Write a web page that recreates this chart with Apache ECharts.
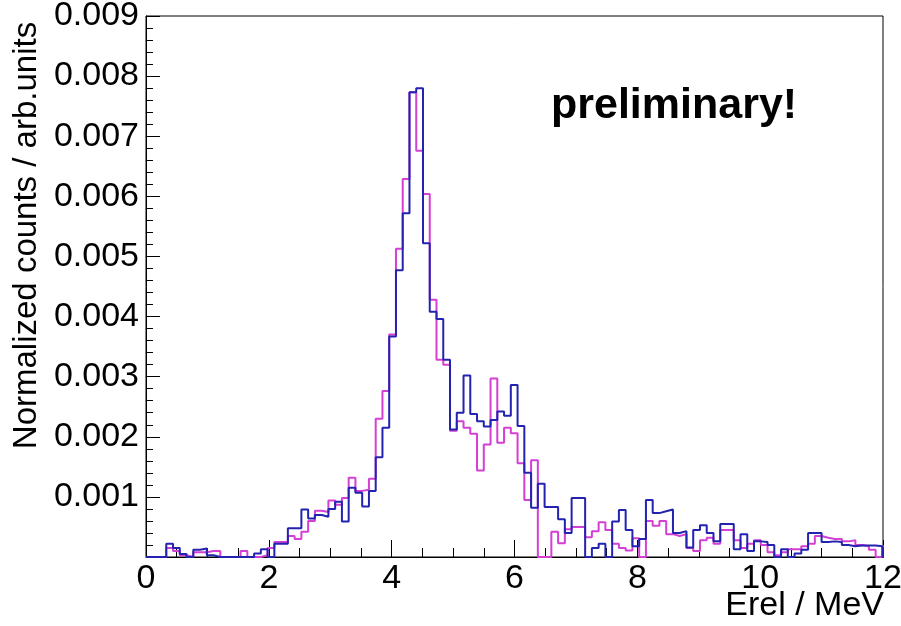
<!DOCTYPE html>
<html>
<head>
<meta charset="utf-8">
<script src="https://cdn.jsdelivr.net/npm/echarts@6/dist/echarts.min.js"></script>
<style>
html,body{margin:0;padding:0;background:#fff;}
#chart{width:901px;height:626px;}
</style>
</head>
<body>
<div id="chart"></div>
<script>
// Histogram binning (MeV)
const BIN_START = 0;
const BIN_WIDTH = 0.11;

// Blue histogram, normalized counts per bin
const blueCounts = [
  0, 0, 0, 0.00022, 0.00015, 0.00005, 0, 0.00012, 0.00014, 0.00003,
  0, 0, 0, 0, 0, 0, 0.00006, 0.00013, 0, 0.00022,
  0.00022, 0.00048, 0.00048, 0.00079, 0.00064, 0.0007, 0.00067, 0.0008, 0.00092, 0.00059,
  0.00115, 0.00107, 0.00084, 0.0011, 0.00166, 0.00215, 0.00367, 0.00477, 0.00572, 0.00773,
  0.0078, 0.00522, 0.00408, 0.00396, 0.00328, 0.00212, 0.0024, 0.00302, 0.00238, 0.00226,
  0.00217, 0.00228, 0.00242, 0.00235, 0.00286, 0.00218, 0.0014, 0.00082, 0.00122, 0.00083,
  0.00083, 0.00063, 0.0004, 0.00098, 0.00098, 0, 0.00015, 0.00022, 0, 0.00059,
  0.00078, 0.00045, 0.00018, 0.0003, 0.00095, 0.00073, 0.00076, 0.00079, 0.0004, 0.00043,
  0.00016, 0.00045, 0.00053, 0.0004, 0.00026, 0.00055, 0.00055, 0.00013, 0.00038, 0.0001,
  0.00026, 0.00025, 0.0002, 0, 0.00013, 0, 0.00006, 0.00012, 0.0004, 0.0004,
  0.00025, 0.00026, 0.00025, 0.0002, 0.00018, 0.00019, 0.00019, 0.00019, 0.00018, 0
];

// Magenta histogram, normalized counts per bin
const magentaCounts = [
  0, 0, 0, 0.00015, 0.0001, 0.00003, 0, 0.00008, 0.00008, 0.0001,
  0.0001, 0, 0, 0, 0.0001, 0, 0, 0.00003, 0.00015, 0.00025,
  0.00025, 0.00035, 0.0003, 0.00042, 0.0006, 0.00077, 0.00075, 0.00094, 0.00087, 0.00098,
  0.00132, 0.0011, 0.00112, 0.0013, 0.0023, 0.00276, 0.0037, 0.00513, 0.00629, 0.00773,
  0.00676, 0.00604, 0.00428, 0.00328, 0.0032, 0.0021, 0.00226, 0.00215, 0.00205, 0.00144,
  0.00187, 0.00297, 0.0019, 0.00215, 0.00206, 0.00156, 0.00095, 0.00161, 0, 0,
  0.00042, 0.00023, 0.00046, 0.0005, 0.0005, 0.00033, 0.00043, 0.00058, 0.00045, 0.00022,
  0.00015, 0.00011, 0.00031, 0, 0.0006, 0.00052, 0.0006, 0.00038, 0.00035, 0.00038,
  0.00015, 0.0001, 0.00028, 0.00032, 0.00022, 0.00045, 0.00045, 0.00028, 0.00015, 0.00022,
  0.00028, 0.0002, 0.00008, 0.00003, 0.00008, 0.00013, 0.00013, 0.00018, 0.00022, 0.00035,
  0.00032, 0.0003, 0.0003, 0.00026, 0.00028, 0.0002, 0.00018, 0.00012, 0, 0.00018
];

// Axis ranges and titles
const X_MIN = 0, X_MAX = 12, X_STEP = 2;
const Y_MIN = 0, Y_MAX = 0.009, Y_STEP = 0.001;
const X_TITLE = 'Erel / MeV';
const Y_TITLE = 'Normalized counts / arb.units';
const NOTE = 'preliminary!';

function histSteps(values) {
  const pts = [[BIN_START, 0]];
  values.forEach((v, i) => pts.push([BIN_START + i * BIN_WIDTH, v]));
  const end = BIN_START + values.length * BIN_WIDTH;
  pts.push([end, values[values.length - 1]]);
  pts.push([end, 0]);
  return pts;
}

const FONT = '"Liberation Sans", Arial, Helvetica, sans-serif';
const chart = echarts.init(document.getElementById('chart'), null, {renderer: 'canvas'});
chart.setOption({
  animation: false,
  backgroundColor: '#ffffff',
  title: {
    text: NOTE,
    left: 546,
    top: 80,
    textStyle: {fontFamily: FONT, fontSize: 43, fontWeight: 'bold', color: '#000'}
  },
  graphic: [
    {
      type: 'text', x: 884, y: 606, silent: true,
      style: {text: X_TITLE, font: '34px ' + FONT, fill: '#000', align: 'right', verticalAlign: 'middle'}
    }
  ],
  grid: {
    left: 146, top: 16, width: 737, height: 541,
    containLabel: false, outerBoundsMode: 'none',
    show: true, borderColor: '#000', borderWidth: 1, backgroundColor: 'transparent'
  },
  xAxis: {
    type: 'value', min: X_MIN, max: X_MAX, interval: X_STEP,
    axisLine: {show: true, lineStyle: {color: '#000', width: 1}},
    axisTick: {show: true, inside: true, length: 17, lineStyle: {color: '#000', width: 1}},
    minorTick: {show: true, splitNumber: 4, length: 9, lineStyle: {color: '#000', width: 1}},
    axisLabel: {fontFamily: FONT, fontSize: 34, color: '#000', margin: 5},
    splitLine: {show: false}
  },
  yAxis: {
    type: 'value', min: Y_MIN, max: Y_MAX, interval: Y_STEP,
    name: Y_TITLE, nameLocation: 'middle', nameGap: 101,
    nameTextStyle: {fontFamily: FONT, fontSize: 33, color: '#000', padding: [0, 0, 0, 102]},
    axisLine: {show: true, lineStyle: {color: '#000', width: 1}},
    axisTick: {show: true, inside: true, length: 14, lineStyle: {color: '#000', width: 1}},
    minorTick: {show: true, splitNumber: 5, length: 7, lineStyle: {color: '#000', width: 1}},
    axisLabel: {
      fontFamily: FONT, fontSize: 34, color: '#000', margin: 7,
      formatter: v => (Math.abs(v) < 1e-12 ? '' : v.toFixed(3))
    },
    splitLine: {show: false}
  },
  series: [
    {
      name: 'magenta', type: 'line', step: 'end', showSymbol: false, symbol: 'none',
      data: histSteps(magentaCounts), clip: true,
      lineStyle: {color: '#d43fd4', width: 2}, z: 2
    },
    {
      name: 'blue', type: 'line', step: 'end', showSymbol: false, symbol: 'none',
      data: histSteps(blueCounts), clip: true,
      lineStyle: {color: '#2323b0', width: 2}, z: 3
    }
  ]
});
</script>
</body>
</html>
